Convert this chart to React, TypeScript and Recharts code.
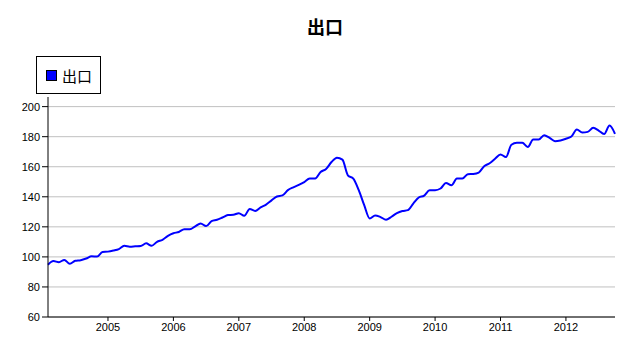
import { LineChart, Line, XAxis, YAxis, CartesianGrid } from 'recharts'

// monthly export index, Feb 2004 .. Oct 2012
const exportValues = [
  94.8, 97.2, 96.5, 98, 95.4, 97.4, 97.8, 98.9, 100.4, 100.2, 103.3,
  103.5, 104.2, 105.2, 107.4, 106.8, 107, 107.2, 109, 107.4, 110, 111.4, 114,
  115.7, 116.6, 118.4, 118.4, 120.3, 122.3, 120.5, 123.8, 124.7, 126.2, 127.8, 128,
  129.1, 127.3, 131.9, 130.6, 133, 134.8, 137.6, 140.2, 140.9, 144.4, 146.3, 147.9,
  149.8, 152.2, 152.2, 156.5, 158.5, 163.1, 166, 164.7, 154.3, 152.1, 144.4, 134.4,
  125.6, 127.6, 126.5, 124.7, 126.7, 129.1, 130.5, 131.1, 135.5, 139.5, 140.8, 144.4,
  144.4, 145.5, 149.2, 147.7, 152.1, 152.1, 155, 155.2, 156.1, 160.3, 162.3, 165.3,
  168.2, 166.4, 174.6, 175.9, 175.9, 173.1, 178.1, 178.1, 181, 179.2, 177, 177.5,
  178.6, 180.1, 184.8, 182.8, 183.2, 185.9, 184.1, 181.7, 187.4, 181.9,
]

const START_YEAR = 2004
const FIRST_MONTH = 1 // Feb 2004, months counted from Jan 2004
const yearTicks = [12, 24, 36, 48, 60, 72, 84, 96]
const valueTicks = [60, 80, 100, 120, 140, 160, 180, 200]
const seriesName = '出口'
const title = '出口'

const data = exportValues.map((v, i) => ({ m: FIRST_MONTH + i, value: v }))

const tickFont = { fontSize: 11, fill: '#000', fontFamily: 'Liberation Sans, Arial, sans-serif' }

function LegendBox() {
  return (
    <div
      style={{
        position: 'absolute',
        left: 36,
        top: 56,
        width: 65,
        height: 38,
        border: '1px solid #000',
        boxSizing: 'border-box',
        display: 'flex',
        alignItems: 'center',
        paddingLeft: 9,
        fontFamily: '"Noto Sans CJK SC", sans-serif',
        fontSize: 15,
        background: '#fff',
      }}
    >
      <span
        style={{
          display: 'inline-block',
          width: 9,
          height: 9,
          background: '#0000ff',
          border: '1px solid #000',
          marginRight: 5,
        }}
      />
      {seriesName}
    </div>
  )
}

export default function App() {
  return (
    <div style={{ position: 'absolute', left: 0, top: 0, width: 632, height: 342, background: '#fff' }}>
      <LineChart width={632} height={342} data={data} margin={{ top: 97, right: 17, bottom: 0, left: 0 }}>
        <CartesianGrid horizontal vertical={false} stroke="#c0c0c0" horizontalValues={valueTicks} />
        <XAxis
          dataKey="m"
          type="number"
          domain={[1, 105]}
          ticks={yearTicks}
          tickFormatter={(m: number) => String(START_YEAR + m / 12)}
          height={25}
          tick={tickFont}
          tickSize={4}
          tickLine={{ stroke: '#000' }}
          axisLine={{ stroke: '#000', strokeWidth: 1 }}
        />
        <YAxis
          type="number"
          domain={[60, 206.4]}
          ticks={valueTicks}
          width={48}
          tick={tickFont}
          tickSize={6}
          tickLine={{ stroke: '#000' }}
          axisLine={{ stroke: '#000', strokeWidth: 1 }}
          allowDataOverflow
        />
        <Line
          type="monotone"
          dataKey="value"
          name={seriesName}
          stroke="#0000ff"
          strokeWidth={2}
          dot={false}
          isAnimationActive={false}
        />
      </LineChart>
      <div
        style={{
          position: 'absolute',
          left: 0,
          width: 650,
          top: 14,
          textAlign: 'center',
          fontFamily: '"Noto Sans CJK SC", sans-serif',
          fontWeight: 'bold',
          fontSize: 18,
          lineHeight: '24px',
          color: '#000',
        }}
      >
        {title}
      </div>
      <LegendBox />
    </div>
  )
}
